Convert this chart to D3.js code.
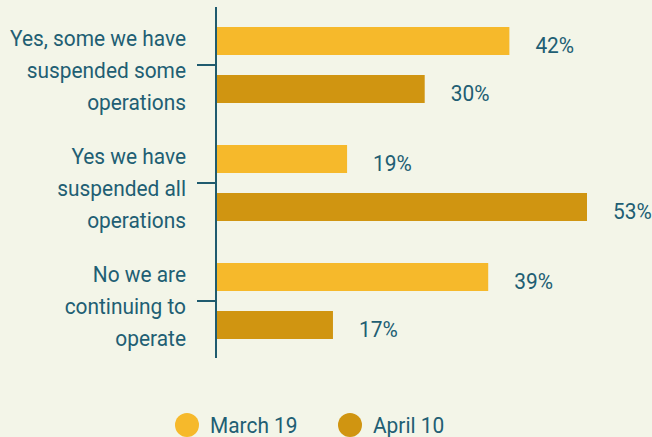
<!DOCTYPE html>
<html>
<head>
<meta charset="utf-8">
<script src="https://cdn.jsdelivr.net/npm/d3@7"></script>
<style>
    body { margin: 0; background: #f3f5e8; }
    svg { display: block; }
    text { font-family: "Roboto", sans-serif; fill: #215e73; }
</style>
</head>
<body>
<div id="main"></div>
<script>
const ctx = {
    w: 652,
    h: 437,
    FONT_SIZE: 22,
    SQUEEZE: 0.95, // narrow the font a bit, reference uses a condensed face
    AXIS_COLOR: "#1f5b6e",
};

// data
const categories = [
    ["Yes, some we have", "suspended some", "operations"],
    ["Yes we have", "suspended all", "operations"],
    ["No we are", "continuing to", "operate"],
];
const seriesNames = ["March 19", "April 10"];
const seriesColors = ["#f6b92b", "#d09511"];
const march19 = [42, 19, 39];
const april10 = [30, 53, 17];

function placeText(sel, fx, fy){
    // position via transform so the horizontal squeeze keeps the anchor in place
    sel.attr("transform", (d, i) => `translate(${fx(d, i)},${fy(d, i)}) scale(${ctx.SQUEEZE},1)`);
}

function createViz(){
    let svg = d3.select("#main").append("svg")
                .attr("width", ctx.w)
                .attr("height", ctx.h);

    let catIds = categories.map((d, i) => i);
    let y0 = d3.scaleBand().domain(catIds).range([6, 360])
               .paddingInner(0.356).paddingOuter(0.178);
    let y1 = d3.scaleBand().domain(seriesNames).range([0, y0.bandwidth()])
               .paddingInner(0.4167).paddingOuter(0);
    let x = d3.scaleLinear().domain([0, 53]).range([213, 587]);
    let axisX = 216;

    let rows = [];
    catIds.forEach(function(i){
        rows.push({cat: i, series: seriesNames[0], value: march19[i], color: seriesColors[0]});
        rows.push({cat: i, series: seriesNames[1], value: april10[i], color: seriesColors[1]});
    });

    // bars
    svg.append("g").attr("id", "bars")
       .selectAll("rect")
       .data(rows)
       .enter()
       .append("rect")
       .attr("x", axisX + 1)
       .attr("y", (d) => (y0(d.cat) + y1(d.series)))
       .attr("width", (d) => (x(d.value) - axisX - 1))
       .attr("height", y1.bandwidth())
       .attr("fill", (d) => (d.color));

    // value labels
    let vals = svg.append("g").attr("id", "values")
                  .selectAll("text")
                  .data(rows)
                  .enter()
                  .append("text")
                  .attr("font-size", ctx.FONT_SIZE)
                  .text((d) => (d.value + "%"));
    placeText(vals, (d) => (x(d.value) + 26),
              (d) => (y0(d.cat) + y1(d.series) + y1.bandwidth()/2 + 0.53*ctx.FONT_SIZE));

    // axis line and ticks
    let yr = y0.range();
    svg.append("line")
       .attr("x1", axisX).attr("x2", axisX)
       .attr("y1", yr[0] + 1).attr("y2", yr[1] - 2)
       .attr("stroke", ctx.AXIS_COLOR).attr("stroke-width", 2);
    svg.append("g").selectAll("line")
       .data(catIds)
       .enter()
       .append("line")
       .attr("x1", axisX - 19).attr("x2", axisX)
       .attr("y1", (d) => (y0(d) + y0.bandwidth()/2))
       .attr("y2", (d) => (y0(d) + y0.bandwidth()/2))
       .attr("stroke", ctx.AXIS_COLOR).attr("stroke-width", 2);

    // category labels
    let lineH = 32.5;
    let labels = svg.append("g").attr("id", "cats")
                    .selectAll("text")
                    .data(catIds)
                    .enter()
                    .append("text")
                    .attr("text-anchor", "end")
                    .attr("font-size", ctx.FONT_SIZE);
    placeText(labels, () => 186, (d) => (y0(d) + y0.bandwidth()/2 + 13));
    labels.selectAll("tspan")
          .data((d) => (categories[d].map((t, k) => ({t: t, k: k}))))
          .enter()
          .append("tspan")
          .attr("x", 0)
          .attr("dy", (d) => (d.k === 0 ? -lineH : lineH))
          .text((d) => (d.t));

    // legend
    let legX = [187, 350];
    let leg = svg.append("g").attr("id", "legend")
                 .selectAll("g")
                 .data(seriesNames)
                 .enter()
                 .append("g");
    leg.append("circle")
       .attr("cx", (d, i) => (legX[i]))
       .attr("cy", 425)
       .attr("r", 12)
       .attr("fill", (d, i) => (seriesColors[i]));
    let legText = leg.append("text")
                     .attr("font-size", ctx.FONT_SIZE)
                     .text((d) => (d));
    placeText(legText, (d, i) => (legX[i] + 23), () => 433);
}

createViz();
</script>
</body>
</html>
